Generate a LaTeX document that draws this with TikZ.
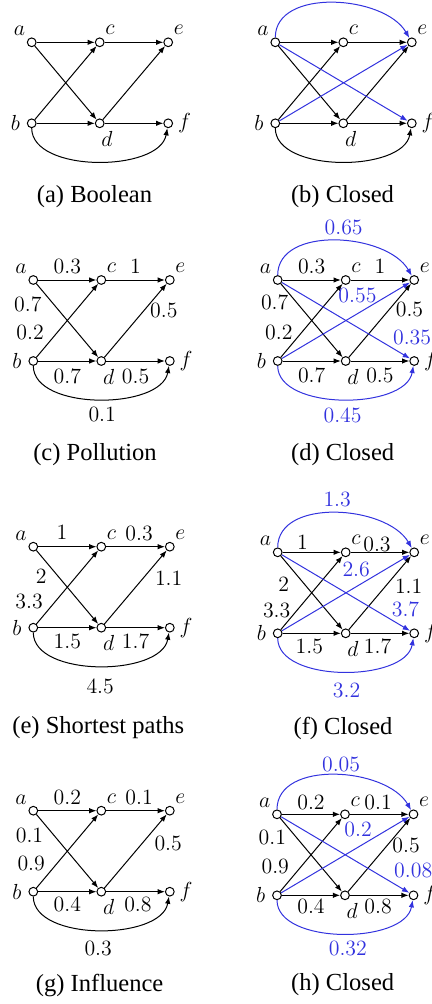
\documentclass[tikz,border=0pt]{standalone}
\usepackage{amsmath}
\usepackage{fontspec}
\newfontfamily\capfont{Liberation Serif}
\usetikzlibrary{arrows.meta}
\definecolor{clos}{RGB}{50,50,222}
\tikzset{
  vtx/.style={circle,draw,fill=white,inner sep=0pt,minimum size=4.8pt},
  subcap/.style={font=\capfont\fontsize{13.5}{16}\selectfont},
  closed/.style={color=clos},
  every label/.style={inner sep=1.5pt},
}
% the six vertices of one panel, names prefixed by #1
\newcommand\sixnodes[1]{%
  \node[vtx,label=135:$a$] (#1a) at (0,0) {};
  \node[vtx,label=60:$c$] (#1c) at (68,0) {};
  \node[vtx,label=60:$e$] (#1e) at (136.5,0) {};
  \node[vtx,label={[label distance=2pt]left:$b$}] (#1b) at (0,-81) {};
  \node[vtx,label={[xshift=4pt]below:$d$}] (#1d) at (68,-81) {};
  \node[vtx,label={[label distance=1pt]right:$f$}] (#1f) at (136.5,-81) {};
}
\begin{document}
\begin{tikzpicture}
    [x=0.55pt,y=0.55pt,>={Latex[length=4pt,width=3pt]},line width=0.55pt,font=\large]
  \useasboundingbox (0,0) rectangle (432,-1004);
  % (a) boolean
  \begin{scope}[shift={(31.7,-42.3)}]
    \sixnodes{A}
    \draw[->] (Aa) -- (Ac);
    \draw[->] (Ac) -- (Ae);
    \draw[->] (Aa) -- (Ad);
    \draw[->] (Ab) -- (Ac);
    \draw[->] (Ab) -- (Ad);
    \draw[->] (Ad) -- (Ae);
    \draw[->] (Ad) -- (Af);
    \draw[->] (Ab) to[out=-90,in=-100,looseness=.85] (Af);
  \end{scope}
  \node[subcap] (capA) at (94.5,-197) {(a) Boolean};
  % (b) closed
  \begin{scope}[shift={(275.3,-42.3)}]
    \sixnodes{B}
    \draw[->] (Ba) -- (Bc);
    \draw[->] (Bc) -- (Be);
    \draw[->] (Ba) -- (Bd);
    \draw[->] (Bb) -- (Bc);
    \draw[->] (Bb) -- (Bd);
    \draw[->] (Bd) -- (Be);
    \draw[->] (Bd) -- (Bf);
    \draw[->] (Bb) to[out=-90,in=-100,looseness=.85] (Bf);
    \draw[->,closed] (Ba) to[out=90,in=120,looseness=.95] (Be);
    \draw[->,closed] (Ba) -- (Bf);
    \draw[->,closed] (Bb) -- (Be);
  \end{scope}
  \node[subcap] (capB) at (342.5,-197) {(b) Closed};
  % (c) pollution
  \begin{scope}[shift={(33.3,-280)}]
    \sixnodes{C}
    \draw[->] (Ca) -- node[above] {$0.3$} (Cc);
    \draw[->] (Cc) -- node[above] {$1$} (Ce);
    \draw[->] (Ca) -- node[pos=.28,left=3.1pt] {$0.7$} (Cd);
    \draw[->] (Cb) -- node[pos=.34,left=3.9pt] {$0.2$} (Cc);
    \draw[->] (Cb) -- node[below=1pt] {$0.7$} (Cd);
    \draw[->] (Cd) -- node[pos=.63,right] {$0.5$} (Ce);
    \draw[->] (Cd) -- node[below=1pt] {$0.5$} (Cf);
    \draw[->] (Cb) to[out=-90,in=-100,looseness=.85] node[pos=.52,below=.8pt] {$0.1$} (Cf);
  \end{scope}
  \node[subcap] (capC) at (95,-455) {(c) Pollution};
  % (d) closed
  \begin{scope}[shift={(277.7,-280)}]
    \sixnodes{D}
    \draw[->] (Da) -- node[above] {$0.3$} (Dc);
    \draw[->] (Dc) -- node[above] {$1$} (De);
    \draw[->] (Da) -- node[pos=.26,left=1.1pt] {$0.7$} (Dd);
    \draw[->] (Db) -- node[pos=.34,left=1.5pt] {$0.2$} (Dc);
    \draw[->] (Db) -- node[below=.4pt] {$0.7$} (Dd);
    \draw[->] (Dd) -- node[pos=.65,right] {$0.5$} (De);
    \draw[->] (Dd) -- node[below=.4pt] {$0.5$} (Df);
    \draw[->,closed] (Da) to[out=90,in=120,looseness=.95] node[pos=.545,above] {$0.65$} (De);
    \draw[->,closed] (Db) -- node[pos=.59,above=2.6pt] {$0.55$} (De);
    \draw[->,closed] (Da) -- node[pos=.85,above right,inner sep=1pt] {$0.35$} (Df);
    \draw[->,closed] (Db) to[out=-90,in=-100,looseness=.85] node[pos=.5,below=1.2pt] {$0.45$} (Df);
  \end{scope}
  \node[subcap] (capD) at (342.7,-455) {(d) Closed};
  % (e) shortest paths
  \begin{scope}[shift={(33.3,-546.7)}]
    \sixnodes{E}
    \draw[->] (Ea) -- node[pos=.41,above=.4pt] {$1$} (Ec);
    \draw[->] (Ec) -- node[pos=.56,above] {$0.3$} (Ee);
    \draw[->] (Ea) -- node[pos=.36,left=3.1pt] {$2$} (Ed);
    \draw[->] (Eb) -- node[pos=.30,left=3.1pt] {$3.3$} (Ec);
    \draw[->] (Eb) -- node[below] {$1.5$} (Ed);
    \draw[->] (Ed) -- node[pos=.62,right=3pt] {$1.1$} (Ee);
    \draw[->] (Ed) -- node[below] {$1.7$} (Ef);
    \draw[->] (Eb) to[out=-90,in=-100,looseness=.85] node[pos=.51,below=3.9pt] {$4.5$} (Ef);
  \end{scope}
  \node[subcap] (capE) at (98.3,-728) {(e) Shortest paths};
  % (f) closed
  \begin{scope}[shift={(277.7,-552.3)}]
    \sixnodes{F}
    \draw[->] (Fa) -- node[pos=.34,above,inner sep=1.5pt] {$1$} (Fc);
    \draw[->] (Fc) -- node[pos=.45,above,inner sep=0pt] {$0.3$} (Fe);
    \draw[->] (Fa) -- node[pos=.38,left=4.8pt] {$2$} (Fd);
    \draw[->] (Fb) -- node[pos=.26,left] {$3.3$} (Fc);
    \draw[->] (Fb) -- node[pos=.46,below] {$1.5$} (Fd);
    \draw[->] (Fd) -- node[pos=.59,right=1.6pt] {$1.1$} (Fe);
    \draw[->] (Fd) -- node[pos=.46,below] {$1.7$} (Ff);
    \draw[->,closed] (Fa) to[out=90,in=120,looseness=.95] node[pos=.51,above] {$1.3$} (Fe);
    \draw[->,closed] (Fb) -- node[pos=.58,above=2pt] {$2.6$} (Fe);
    \draw[->,closed] (Fa) -- node[pos=.84,above right,inner sep=1pt] {$3.7$} (Ff);
    \draw[->,closed] (Fb) to[out=-90,in=-100,looseness=.85] node[pos=.52,below=2.7pt] {$3.2$} (Ff);
  \end{scope}
  \node[subcap] (capF) at (343,-728) {(f) Closed};
  % (g) influence
  \begin{scope}[shift={(33.3,-810.7)}]
    \sixnodes{G}
    \draw[->] (Ga) -- node[above,inner sep=3pt] {$0.2$} (Gc);
    \draw[->] (Gc) -- node[pos=.56,above,inner sep=3pt] {$0.1$} (Ge);
    \draw[->] (Ga) -- node[pos=.28,left=2.2pt] {$0.1$} (Gd);
    \draw[->] (Gb) -- node[pos=.34,left=3.3pt] {$0.9$} (Gc);
    \draw[->] (Gb) -- node[below,inner sep=3pt] {$0.4$} (Gd);
    \draw[->] (Gd) -- node[pos=.60,right=3.4pt] {$0.5$} (Ge);
    \draw[->] (Gd) -- node[pos=.54,below,inner sep=3pt] {$0.8$} (Gf);
    \draw[->] (Gb) to[out=-90,in=-100,looseness=.85] node[pos=.5,below=2.7pt] {$0.3$} (Gf);
  \end{scope}
  \node[subcap] (capG) at (99.6,-985) {(g) Influence};
  % (h) closed
  \begin{scope}[shift={(277,-814.3)}]
    \sixnodes{H}
    \draw[->] (Ha) -- node[above,inner sep=2.5pt] {$0.2$} (Hc);
    \draw[->] (Hc) -- node[pos=.48,above,inner sep=2.5pt] {$0.1$} (He);
    \draw[->] (Ha) -- node[pos=.26,left=2pt] {$0.1$} (Hd);
    \draw[->] (Hb) -- node[pos=.34,left=3.1pt] {$0.9$} (Hc);
    \draw[->] (Hb) -- node[below,inner sep=2pt] {$0.4$} (Hd);
    \draw[->] (Hd) -- node[pos=.63,right,inner sep=2.5pt] {$0.5$} (He);
    \draw[->] (Hd) -- node[pos=.48,below,inner sep=2pt] {$0.8$} (Hf);
    \draw[->,closed] (Ha) to[out=90,in=120,looseness=.95] node[pos=.535,above,inner sep=2pt] {$0.05$} (He);
    \draw[->,closed] (Hb) -- node[pos=.60,above=2.4pt] {$0.2$} (He);
    \draw[->,closed] (Ha) -- node[pos=.85,above right,inner sep=2pt] {$0.08$} (Hf);
    \draw[->,closed] (Hb) to[out=-90,in=-100,looseness=.85] node[pos=.53,below=.7pt] {$0.32$} (Hf);
  \end{scope}
  \node[subcap] (capH) at (342.7,-985) {(h) Closed};
\end{tikzpicture}
\end{document}
